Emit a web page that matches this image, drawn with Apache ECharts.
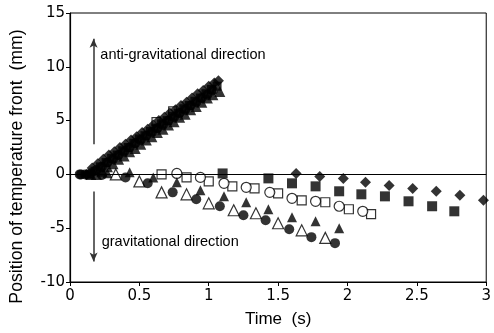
<!DOCTYPE html>
<html>
<head>
<meta charset="utf-8">
<script src="https://cdn.jsdelivr.net/npm/echarts@6/dist/echarts.min.js"></script>
<style>html,body{margin:0;padding:0;background:#fff}#c{width:494px;height:333px}</style>
</head>
<body>
<div id="c"></div>
<script>
// ---- data: [time (s), position (mm)] ----
// upward (anti-gravitational) branch
const diamondUp = [[0.12,0.0],[0.16,0.6],[0.20,1.0],[0.24,1.4],[0.28,1.8],[0.32,2.1],[0.36,2.5],[0.40,2.8],[0.44,3.2],[0.48,3.5],[0.52,3.9],[0.56,4.2],[0.60,4.6],[0.64,5.0],[0.68,5.3],[0.72,5.7],[0.76,6.0],[0.80,6.4],[0.84,6.7],[0.88,7.1],[0.92,7.5],[0.96,7.8],[1.00,8.2],[1.04,8.5],[1.07,8.7]];
const squareUp = [[0.14,0.0],[0.18,0.3],[0.22,0.7],[0.26,1.1],[0.30,1.5],[0.34,1.8],[0.38,2.2],[0.42,2.5],[0.46,2.9],[0.50,3.3],[0.54,3.6],[0.58,4.0],[0.62,4.3],[0.66,4.7],[0.70,5.0],[0.74,5.4],[0.78,5.7],[0.82,6.1],[0.86,6.4],[0.90,6.8],[0.94,7.1],[0.98,7.5],[1.02,7.9],[1.06,8.2]];
const triangleUp = [[0.15,0.0],[0.19,0.0],[0.23,0.3],[0.27,0.7],[0.31,1.0],[0.35,1.4],[0.39,1.7],[0.43,2.1],[0.47,2.4],[0.51,2.8],[0.55,3.2],[0.59,3.5],[0.63,3.9],[0.67,4.2],[0.71,4.6],[0.75,4.9],[0.79,5.3],[0.83,5.6],[0.87,6.0],[0.91,6.3],[0.95,6.7],[0.99,7.1],[1.03,7.4],[1.08,7.7]];
const circleUp = [[0.08,0.0],[0.11,0.0],[0.15,0.1],[0.19,0.4],[0.23,0.7],[0.27,1.1],[0.31,1.4],[0.35,1.8],[0.39,2.1],[0.43,2.5],[0.47,2.9],[0.51,3.2],[0.55,3.6],[0.59,3.9],[0.63,4.3],[0.67,4.6],[0.71,5.0],[0.75,5.3],[0.79,5.7],[0.83,6.0],[0.87,6.4],[0.91,6.7],[0.95,7.1],[0.99,7.4],[1.03,7.8]];
const openSquareUp = [[0.62,4.9],[0.74,5.9]];

// downward (gravitational) branch
const openTriangleDown = [[0.33,0.0],[0.50,-0.65],[0.66,-1.67],[0.84,-1.85],[1.00,-2.69],[1.18,-3.33],[1.34,-3.61],[1.50,-4.54],[1.67,-5.20],[1.84,-5.90]];
const circleDown = [[0.07,0.0],[0.23,-0.05],[0.40,-0.28],[0.56,-0.83],[0.74,-1.67],[0.91,-2.31],[1.08,-2.96],[1.25,-3.80],[1.41,-4.26],[1.58,-5.09],[1.74,-5.83],[1.91,-6.39]];
const triangleDown = [[0.27,0.1],[0.43,0.19],[0.60,-0.28],[0.77,-0.74],[0.94,-1.48],[1.11,-2.04],[1.27,-2.59],[1.43,-3.24],[1.60,-3.98],[1.77,-4.35],[1.94,-5.00]];
const openCircleDown = [[0.77,0.09],[0.94,-0.28],[1.11,-0.83],[1.27,-1.20],[1.44,-1.67],[1.60,-2.22],[1.77,-2.50],[1.94,-2.96],[2.11,-3.43]];
const openSquareDown = [[0.66,0.0],[0.84,-0.28],[1.00,-0.65],[1.17,-1.11],[1.33,-1.30],[1.50,-1.76],[1.67,-2.41],[1.84,-2.59],[2.01,-3.24],[2.17,-3.70]];
const squareDown = [[1.10,0.09],[1.43,-0.37],[1.60,-0.83],[1.77,-1.11],[1.94,-1.57],[2.10,-1.85],[2.27,-2.04],[2.44,-2.50],[2.61,-2.96],[2.77,-3.43]];
const diamondDown = [[1.63,0.09],[1.80,-0.19],[1.97,-0.37],[2.13,-0.74],[2.30,-1.02],[2.47,-1.30],[2.64,-1.57],[2.81,-1.94],[2.98,-2.41]];

// axes
const xTicks = [0, 0.5, 1, 1.5, 2, 2.5, 3];
const yTicks = [-10, -5, 0, 5, 10, 15];
const xTitle = 'Time  (s)';
const yTitle = 'Position of temperature front  (mm)';
const upText = 'anti-gravitational direction';
const downText = 'gravitational direction';

const filled = {color:'#000'};
const open = {color:'#fff', borderColor:'#000', borderWidth:1.2};
function sc(data, symbol, size, style, z) {
  return {type:'scatter', data:data, symbol:symbol, symbolSize:size, itemStyle:style, z:z, silent:true, animation:false};
}

const chart = echarts.init(document.getElementById('c'), null, {renderer:'canvas'});
const series = [
  sc(openSquareUp, 'rect', 8, open, 2),
  sc(openSquareDown, 'rect', 9, open, 2),
  sc(openCircleDown, 'circle', 10, open, 2),
  sc(openTriangleDown, 'triangle', 11, open, 2),
  sc(circleDown, 'circle', 10, filled, 3),
  sc(triangleDown, 'triangle', 10, filled, 3),
  sc(squareDown, 'rect', 10, filled, 3),
  sc(diamondDown, 'diamond', 11, filled, 3),
  sc(circleUp, 'circle', 10, filled, 3),
  sc(triangleUp, 'triangle', 11, filled, 3),
  sc(squareUp, 'rect', 9, filled, 3),
  sc(diamondUp, 'diamond', 11, filled, 3)
];
// zero line, arrows and texts attached to first series
series[0].markLine = {
  silent:true, animation:false, symbol:['none','none'],
  label:{show:false},
  lineStyle:{color:'#000', width:1, type:'solid'},
  data:[
    {yAxis:0},
    [{coord:[0.17,2.8], symbol:'none', lineStyle:{color:'#333', width:1.5}}, {coord:[0.17,12.6], symbol:'arrow', symbolSize:[6,9]}],
    [{coord:[0.17,-1.6], symbol:'none', lineStyle:{color:'#333', width:1.5}}, {coord:[0.17,-8.1], symbol:'arrow', symbolSize:[6,9]}]
  ]
};
series[0].markPoint = {
  silent:true, animation:false, symbol:'circle', symbolSize:1, itemStyle:{color:'rgba(0,0,0,0)'},
  label:{show:true, position:'right', distance:0, color:'#000', fontFamily:'Liberation Sans', fontSize:14.5},
  data:[
    {coord:[0.215,11.1], label:{formatter:upText}},
    {coord:[0.225,-6.3], label:{formatter:downText}}
  ]
};

chart.setOption({
  animation:false,
  backgroundColor:'#fff',
  grid:{left:67, right:3, top:13, bottom:50, show:true, borderColor:'#000', borderWidth:1},
  xAxis:{
    type:'value', min:xTicks[0], max:xTicks[xTicks.length-1], interval:0.5,
    name:xTitle, nameLocation:'middle', nameGap:29,
    nameTextStyle:{fontFamily:'Liberation Sans', fontSize:17, color:'#000'},
    axisLine:{show:true, onZero:false, lineStyle:{color:'#000', width:1.2}},
    axisTick:{show:true, inside:false, length:4, lineStyle:{color:'#000'}},
    axisLabel:{fontFamily:'DejaVu Sans', fontSize:15, color:'#000', margin:7},
    splitLine:{show:false}
  },
  yAxis:{
    type:'value', min:yTicks[0], max:yTicks[yTicks.length-1], interval:5,
    name:yTitle, nameLocation:'middle', nameGap:44,
    nameTextStyle:{fontFamily:'Liberation Sans', fontSize:17.7, color:'#000', padding:[0,38,0,0]},
    axisLine:{show:true, onZero:false, lineStyle:{color:'#000', width:1.2}},
    axisTick:{show:true, inside:false, length:4, lineStyle:{color:'#000'}},
    axisLabel:{fontFamily:'DejaVu Sans', fontSize:15, color:'#000', margin:5},
    splitLine:{show:false}
  },
  series:series
});
</script>
</body>
</html>
